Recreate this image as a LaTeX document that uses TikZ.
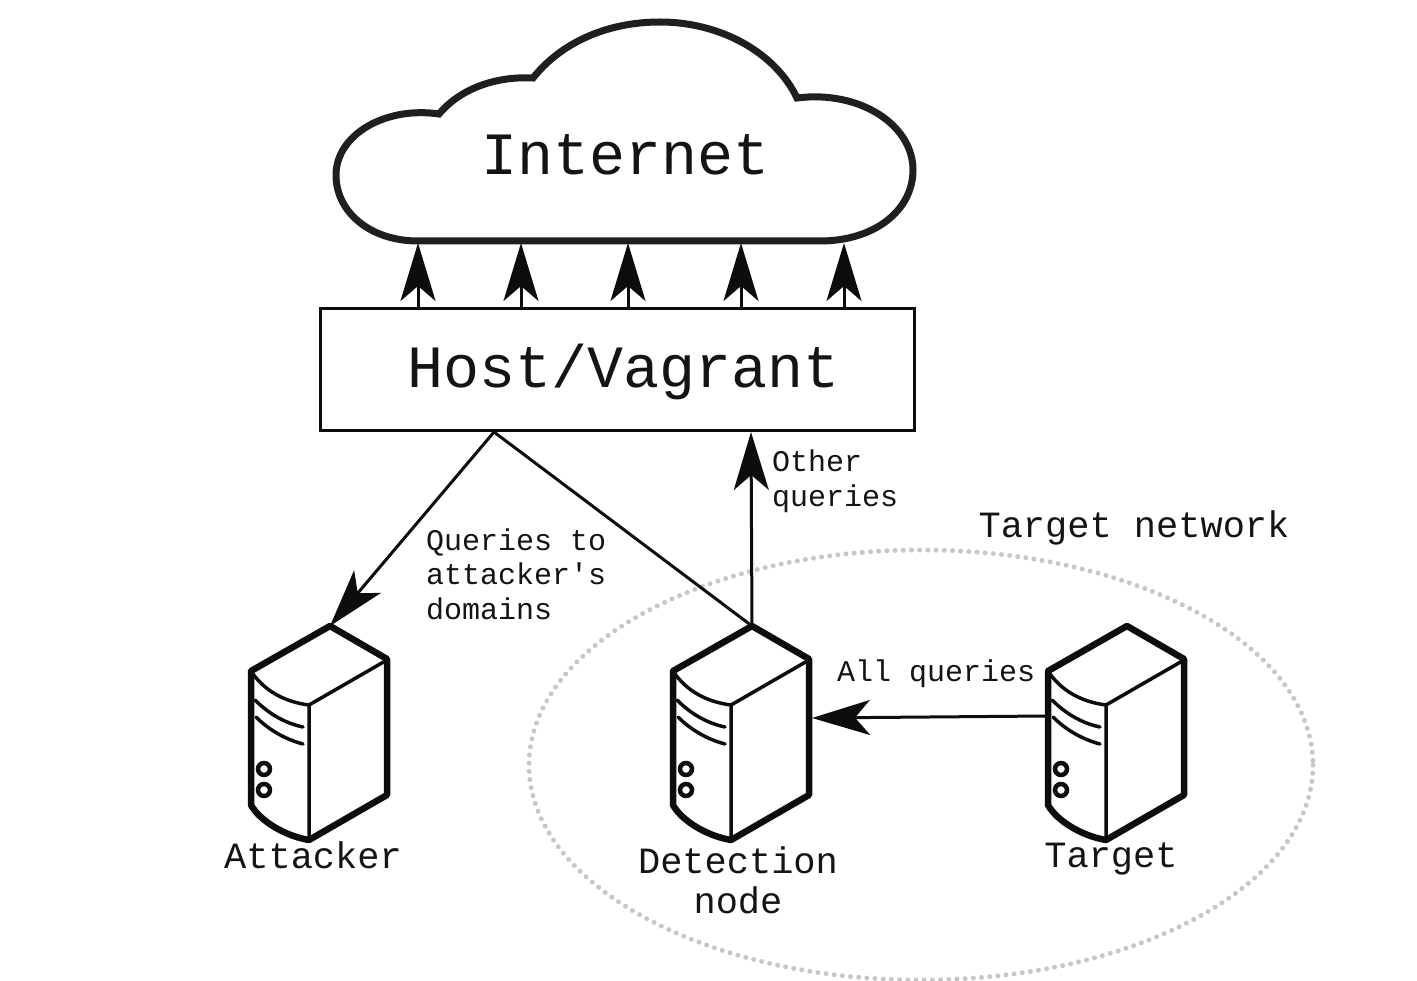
\documentclass[tikz,border=0pt]{standalone}
\usepackage{fontspec}
\setmonofont{Liberation Mono}
\usetikzlibrary{arrows.meta}
\tikzset{
  x=1pt,y=-1pt,
  ink/.style={draw=black!95},
  bigtext/.style={font=\ttfamily\fontsize{60}{64}\selectfont,inner sep=0pt,text=black!92},
  midtext/.style={font=\ttfamily\fontsize{37}{40}\selectfont,inner sep=0pt,text=black!92,align=center},
  smalltext/.style={font=\ttfamily\fontsize{30}{34.5}\selectfont,inner sep=0pt,text=black!92,align=left},
  bigarrow/.style={ink,line width=3pt,-{Stealth[length=58pt,width=35pt,inset=15pt]}},
  plainline/.style={ink,line width=3pt},
  server/.pic={
    \draw[ink,line width=6.5pt,line join=round,fill=white]
      (0,0) -- (57,33) -- (57,169) -- (-21,214)
      .. controls (-45,210) and (-70,195) .. (-79,179) -- (-79,45) -- cycle;
    \draw[ink,line width=3.5pt] (57,34) -- (-21,79) -- (-21,214);
    \draw[ink,line width=3.5pt] (-79,45) .. controls (-66,65) and (-45,76) .. (-21,79);
    \draw[ink,line width=3.5pt,line cap=round] (-75,74) .. controls (-62,87) and (-46,97) .. (-27,101);
    \draw[ink,line width=3.5pt,line cap=round] (-74,91) .. controls (-62,103) and (-46,113) .. (-27,118);
    \draw[ink,line width=4.5pt] (-66,143) circle (6);
    \draw[ink,line width=4.5pt] (-66,164) circle (6);
    \coordinate (-top) at (0,0);
    \coordinate (-east) at (60,92);
    \coordinate (-west) at (-80,90);
  }
}
\begin{document}
\begin{tikzpicture}
\useasboundingbox (0,0) rectangle (1417,981);
\fill[white] (0,0) rectangle (1417,981);
% dotted ellipse
\draw[draw=black!22,line width=5pt,line cap=round,dash pattern=on 0pt off 8.2pt]
  (921,765) ellipse [x radius=392,y radius=215];
% cloud
\draw[draw=black!88,line width=7pt,fill=white]
  (418,241) -- (820,241)
  .. controls (875,241) and (913,210) .. (913,170)
  .. controls (913,125) and (860,90) .. (797,98)
  .. controls (775,52) and (720,22) .. (660,22)
  .. controls (605,22) and (560,44) .. (533,78)
  .. controls (495,76) and (460,89) .. (439,114)
  .. controls (385,106) and (336,135) .. (336,175)
  .. controls (336,212) and (370,241) .. (418,241) -- cycle;
\node[bigtext] (internet) at (626,155) {Internet};
% host box
\node[ink,line width=3pt,minimum width=594pt,minimum height=122pt,inner sep=0pt] (host) at (617.5,369.5) {};
\node[bigtext] (hostlabel) at (624,372) {Host/Vagrant};
% arrow ends under the cloud
\coordinate (c1) at (418,243);
\coordinate (c2) at (521,243);
\coordinate (c3) at (628,243);
\coordinate (c4) at (741,243);
\coordinate (c5) at (844,243);
\foreach \i in {1,...,5}{
  \draw[bigarrow] (c\i |- host.north) -- (c\i);
}
% servers
\pic (att) at (330,626) {server};
\pic (det) at (752,626) {server};
\pic (tgt) at (1127,626) {server};
\coordinate (split) at (494,432);
\coordinate (hostin) at (751,432);
\draw[bigarrow] (split) -- (att-top);
\draw[plainline] (split) -- (det-top);
\draw[bigarrow] (det-top) -- (hostin);
\draw[bigarrow] (tgt-west) -- (det-east);
% labels
\node[midtext] (attlabel) at (313,855) {Attacker};
\node[midtext] (detlabel) at (738,880) {Detection\\node};
\node[midtext] (tgtlabel) at (1111,859) {Target};
\node[midtext] (netlabel) at (1134,528) {Target network};
\node[smalltext,anchor=west] (l1) at (772,481) {Other\\queries};
\node[smalltext,anchor=west] (l2) at (426,574) {Queries to\\attacker's\\domains};
\node[smalltext,anchor=west] (l3) at (837,674) {All queries};
\end{tikzpicture}
\end{document}
